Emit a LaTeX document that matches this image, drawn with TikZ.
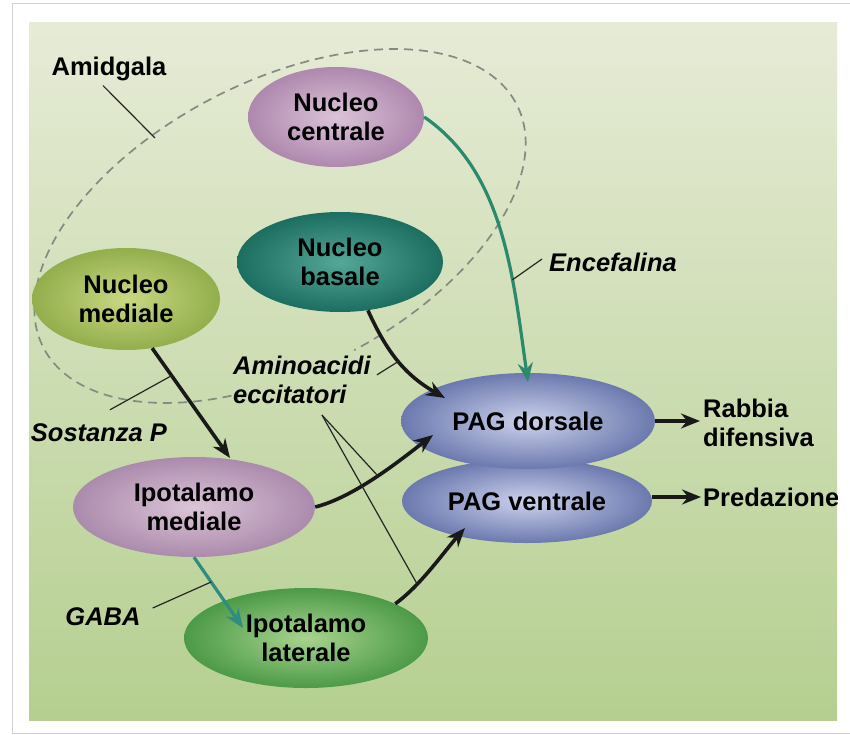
\documentclass[tikz,border=0pt]{standalone}
\usepackage{fontspec}
\setmainfont{Liberation Sans}
\usetikzlibrary{shapes.geometric,arrows.meta,calc}
\newcommand\diafont{\fontsize{25.5}{29}\selectfont\bfseries}
\definecolor{panTop}{HTML}{E6EBD6}
\definecolor{panMid}{HTML}{D4E3B2}
\definecolor{panBot}{HTML}{B5CF90}
\definecolor{cenIn}{HTML}{DCC3D8}
\definecolor{cenOut}{HTML}{AE88AE}
\definecolor{basIn}{HTML}{55A898}
\definecolor{basOut}{HTML}{1B6E60}
\definecolor{medIn}{HTML}{C8D882}
\definecolor{medOut}{HTML}{93AE4C}
\definecolor{imIn}{HTML}{DCC5D8}
\definecolor{imOut}{HTML}{AB8BAC}
\definecolor{ilIn}{HTML}{A8D48E}
\definecolor{ilOut}{HTML}{4C9A48}
\definecolor{pagIn}{HTML}{CDD3EC}
\definecolor{pagOut}{HTML}{6B79AE}
\definecolor{tealA}{HTML}{2B8A6C}
\definecolor{tealB}{HTML}{2F8C80}
\definecolor{dashc}{HTML}{858A82}
\begin{document}
\begin{tikzpicture}[x=1pt,y=-1pt,
  el/.style={ellipse, inner sep=0pt, draw=none, align=center, font=\diafont},
  lbl/.style={inner sep=0pt, font=\diafont},
  ilbl/.style={inner sep=0pt, font=\diafont\itshape},
  blk/.style={line width=3.6pt, draw=black!90, -{Stealth[length=19pt,width=15pt]}},
  tealarrow/.style={line width=3.2pt, -{Stealth[length=19pt,width=15pt]}},
  leader/.style={line width=1.2pt, draw=black!85},
  amyg/.style={draw=dashc, line width=1.7pt, dash pattern=on 9pt off 6pt}]
\useasboundingbox (0,0) rectangle (850,735);
\draw[black!18, line width=1pt] (12,4) rectangle (853,733);
\begin{scope}
\clip (29,23) rectangle (837,720);
\shade[top color=panTop, middle color=panMid, bottom color=panBot] (29,23) rectangle (837,720);
% amygdala outline
\draw[amyg, rotate around={27.2:(280,226)}] (280,226) ++(117:266 and 144.5)
  arc[start angle=117, end angle=448, x radius=266, y radius=144.5];
% ellipses
\node[el, minimum width=176pt, minimum height=100pt, inner color=cenIn, outer color=cenOut] (nc) at (336,117) {Nucleo\\centrale};
\node[el, minimum width=206pt, minimum height=100pt, inner color=basIn, outer color=basOut] (nb) at (340,262) {Nucleo\\basale};
\node[el, minimum width=188pt, minimum height=102pt, inner color=medIn, outer color=medOut] (nm) at (126,299) {Nucleo\\mediale};
\node[el, minimum width=242pt, minimum height=100pt, inner color=imIn, outer color=imOut] (im) at (194,507) {Ipotalamo\\mediale};
\node[el, minimum width=244pt, minimum height=100pt, inner color=ilIn, outer color=ilOut] (il) at (306,638) {Ipotalamo\\laterale};
\node[el, minimum width=250pt, minimum height=84pt, inner color=pagIn, outer color=pagOut] (pv) at (527,501) {PAG ventrale};
\node[el, minimum width=254pt, minimum height=96pt, inner color=pagIn, outer color=pagOut] (pd) at (528,421) {PAG dorsale};
% labels
\node[lbl, anchor=base] (amid) at (109,76) {Amidgala};
\node[ilbl] (enc) at (613,262) {Encefalina};
\node[ilbl, anchor=west, align=left] (am) at (233,380) {Aminoacidi\\eccitatori};
\node[ilbl] (sp) at (99,433) {Sostanza P};
\node[ilbl] (gaba) at (103,617) {GABA};
\node[lbl, anchor=west, align=left] (rab) at (703,423) {Rabbia\\difensiva};
\node[lbl, anchor=west] (pred) at (703,497) {Predazione};
% connectors
\draw[tealarrow, draw=tealA, color=tealA] (nc.east) .. controls +(80,55) and +(-15,-105) .. ($(pd)+(0,-39)$) coordinate[pos=0.67] (encP);
\draw[blk] (nb.-60) .. controls +(19,42) and +(-40,-23) .. ($(pd)+(-83,-23)$) coordinate[pos=0.5] (aaP);
\draw[blk] (nm.-62) -- ($(im)+(36,-49)$) coordinate[pos=0.25] (spP);
\draw[blk] (im.east) .. controls +(40,-10) and +(-30,23) .. ($(pd)+(-95,14)$) coordinate[pos=0.5] (ecP1);
\draw[tealarrow, draw=tealB, color=tealB] (im.south) -- ($(il)+(-63,-10)$) coordinate[pos=0.35] (gabaP);
\draw[blk] (il.21) .. controls +(25,-18) and +(-22,25) .. ($(pv)+(-62,27)$) coordinate[pos=0.3] (ecP2);
\draw[blk, shorten >=3pt] (pd.east) -- (pd.east -| rab.west);
\draw[blk, shorten >=2pt] (pred.west -| pv.east) -- (pred.west);
% leader lines
\coordinate (amidE) at (155,138);
\draw[leader] ($(amid.south)+(-6,4)$) -- (amidE);
\draw[leader] ($(enc.west)+(-7,-3)$) -- (encP);
\draw[leader] ($(am.north east)+(6,19)$) -- (aaP);
\draw[leader] ($(am.south west)+(89,11)$) -- (ecP1);
\draw[leader] ($(am.south west)+(89,11)$) -- (ecP2);
\draw[leader] ($(sp.north)+(11,-14)$) -- (spP);
\draw[leader] ($(gaba.east)+(12,-9)$) -- (gabaP);
\end{scope}
\end{tikzpicture}
\end{document}
